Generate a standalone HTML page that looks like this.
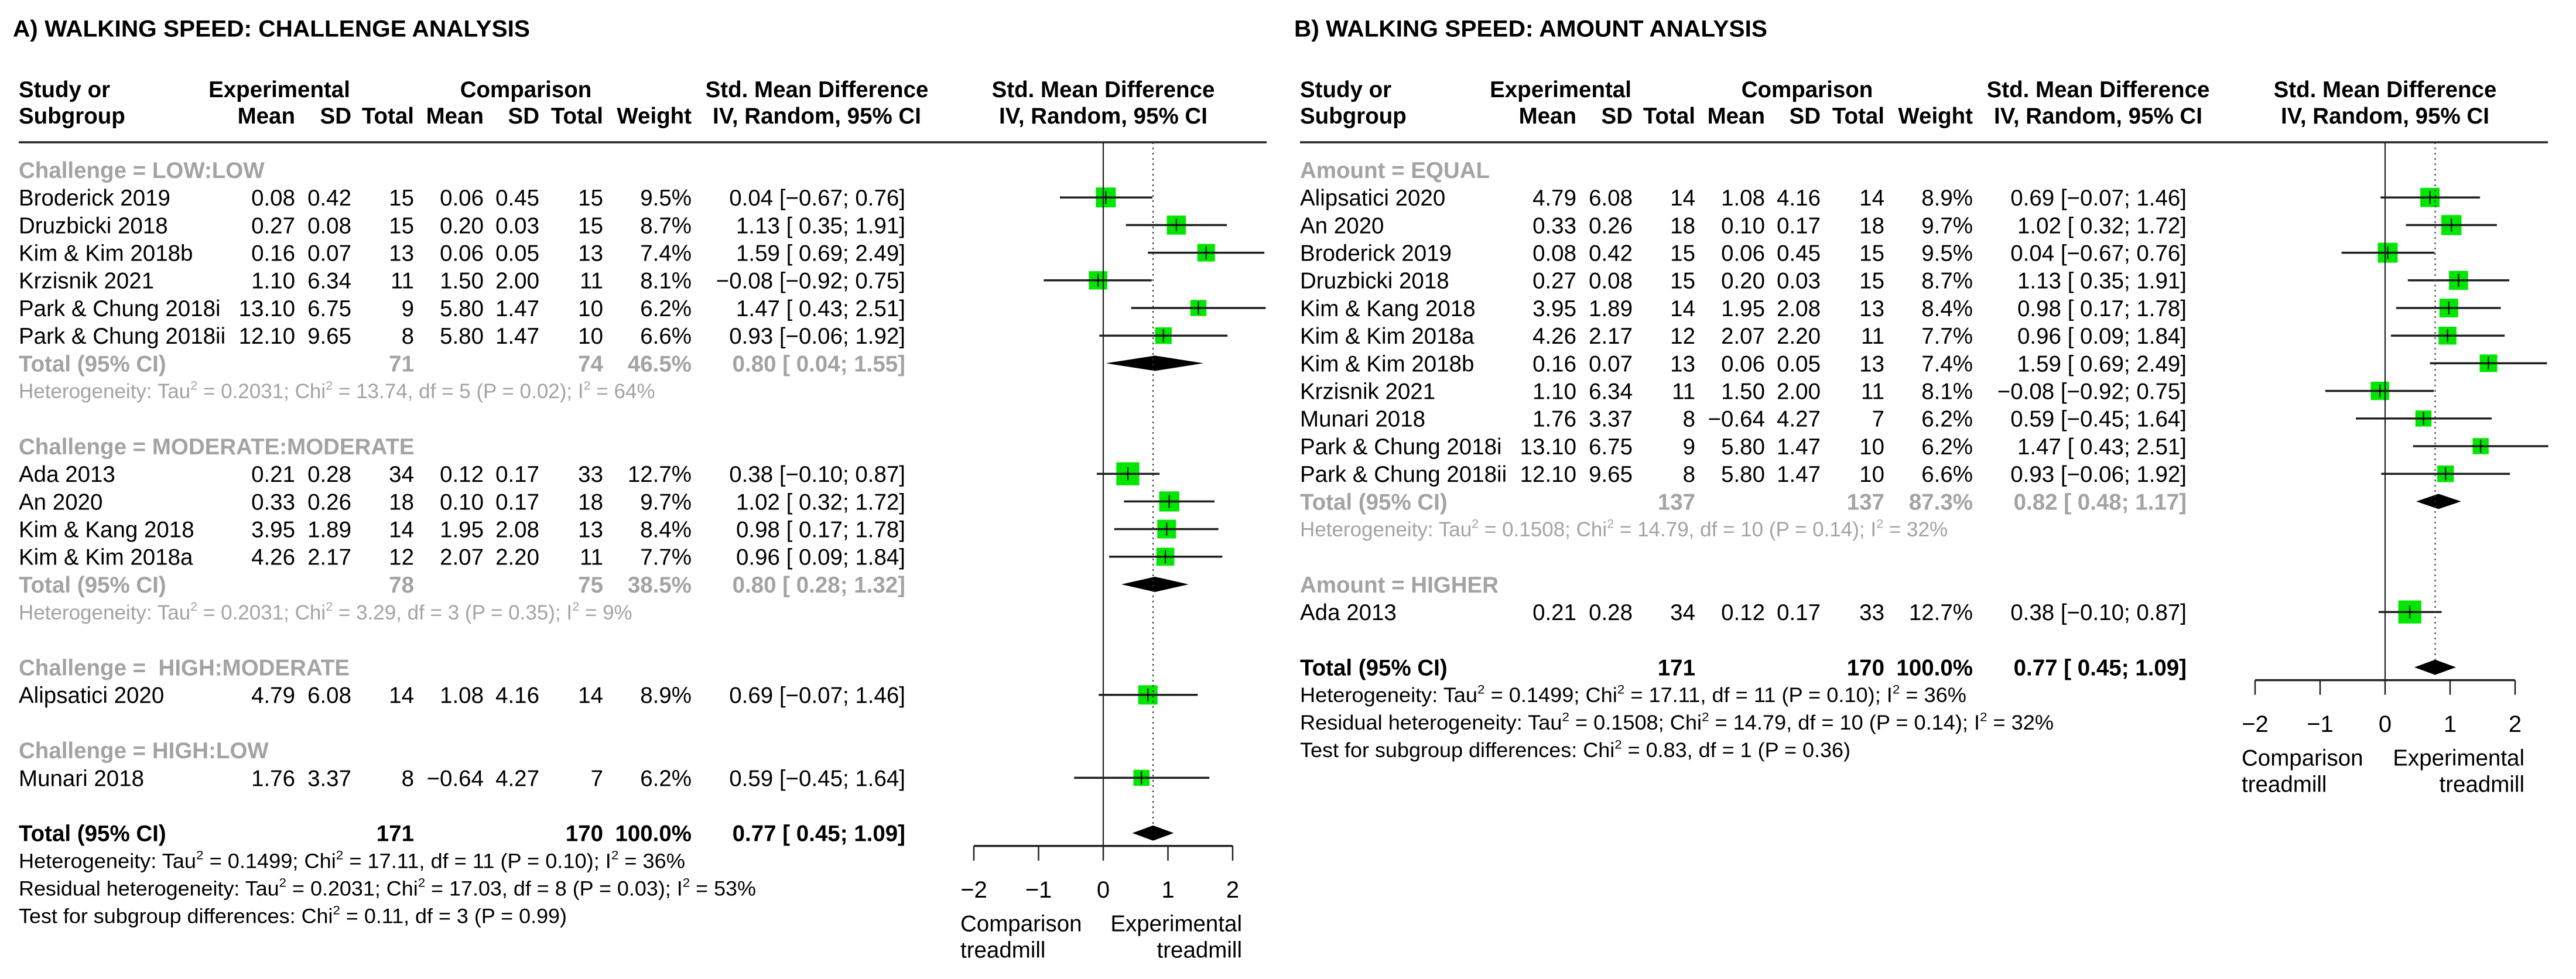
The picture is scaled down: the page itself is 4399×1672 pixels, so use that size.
<!DOCTYPE html>
<html><head><meta charset="utf-8"><title>Walking speed forest plots</title>
<style>
html,body{margin:0;padding:0;background:#fff;}
svg{display:block;}
text{font-family:"Liberation Sans",Arial,sans-serif;white-space:pre;}
</style></head>
<body>
<svg id="chart" xmlns="http://www.w3.org/2000/svg" width="4399" height="1672" viewBox="0 0 4399 1672">
<rect x="0" y="0" width="4399" height="1672" fill="#fff"/>
</svg>
<script>
// ---------- Panel A data (Challenge analysis) ----------
const aNames = ["Broderick 2019","Druzbicki 2018","Kim & Kim 2018b","Krzisnik 2021","Park & Chung 2018i","Park & Chung 2018ii","Ada 2013","An 2020","Kim & Kang 2018","Kim & Kim 2018a","Alipsatici 2020","Munari 2018"];
const aGroupOf = [0,0,0,0,0,0,1,1,1,1,2,3];
const aExpMean = [0.08,0.27,0.16,1.10,13.10,12.10,0.21,0.33,3.95,4.26,4.79,1.76];
const aExpSD = [0.42,0.08,0.07,6.34,6.75,9.65,0.28,0.26,1.89,2.17,6.08,3.37];
const aExpN = [15,15,13,11,9,8,34,18,14,12,14,8];
const aCmpMean = [0.06,0.20,0.06,1.50,5.80,5.80,0.12,0.10,1.95,2.07,1.08,-0.64];
const aCmpSD = [0.45,0.03,0.05,2.00,1.47,1.47,0.17,0.17,2.08,2.20,4.16,4.27];
const aCmpN = [15,15,13,11,10,10,33,18,13,11,14,7];
const aWeight = [9.5,8.7,7.4,8.1,6.2,6.6,12.7,9.7,8.4,7.7,8.9,6.2];
const aSMD = [0.04,1.13,1.59,-0.08,1.47,0.93,0.38,1.02,0.98,0.96,0.69,0.59];
const aLow = [-0.67,0.35,0.69,-0.92,0.43,-0.06,-0.10,0.32,0.17,0.09,-0.07,-0.45];
const aHigh = [0.76,1.91,2.49,0.75,2.51,1.92,0.87,1.72,1.78,1.84,1.46,1.64];
const aGroups = ["Challenge = LOW:LOW","Challenge = MODERATE:MODERATE","Challenge =  HIGH:MODERATE","Challenge = HIGH:LOW"];
const aGrpSMD = [0.80,0.80,null,null];
const aGrpLow = [0.04,0.28,null,null];
const aGrpHigh = [1.55,1.32,null,null];
const aGrpW = [46.5,38.5,null,null];
const aGrpNe = [71,78,null,null];
const aGrpNc = [74,75,null,null];
const aGrpHet = ["Heterogeneity: Tau^2 = 0.2031; Chi^2 = 13.74, df = 5 (P = 0.02); I^2 = 64%","Heterogeneity: Tau^2 = 0.2031; Chi^2 = 3.29, df = 3 (P = 0.35); I^2 = 9%",null,null];
const aTotal = [0.77,0.45,1.09];
const aTotalN = [171,170];
const aFooter = ["Heterogeneity: Tau^2 = 0.1499; Chi^2 = 17.11, df = 11 (P = 0.10); I^2 = 36%","Residual heterogeneity: Tau^2 = 0.2031; Chi^2 = 17.03, df = 8 (P = 0.03); I^2 = 53%","Test for subgroup differences: Chi^2 = 0.11, df = 3 (P = 0.99)"];

// ---------- Panel B data (Amount analysis) ----------
const bNames = ["Alipsatici 2020","An 2020","Broderick 2019","Druzbicki 2018","Kim & Kang 2018","Kim & Kim 2018a","Kim & Kim 2018b","Krzisnik 2021","Munari 2018","Park & Chung 2018i","Park & Chung 2018ii","Ada 2013"];
const bGroupOf = [0,0,0,0,0,0,0,0,0,0,0,1];
const bExpMean = [4.79,0.33,0.08,0.27,3.95,4.26,0.16,1.10,1.76,13.10,12.10,0.21];
const bExpSD = [6.08,0.26,0.42,0.08,1.89,2.17,0.07,6.34,3.37,6.75,9.65,0.28];
const bExpN = [14,18,15,15,14,12,13,11,8,9,8,34];
const bCmpMean = [1.08,0.10,0.06,0.20,1.95,2.07,0.06,1.50,-0.64,5.80,5.80,0.12];
const bCmpSD = [4.16,0.17,0.45,0.03,2.08,2.20,0.05,2.00,4.27,1.47,1.47,0.17];
const bCmpN = [14,18,15,15,13,11,13,11,7,10,10,33];
const bWeight = [8.9,9.7,9.5,8.7,8.4,7.7,7.4,8.1,6.2,6.2,6.6,12.7];
const bSMD = [0.69,1.02,0.04,1.13,0.98,0.96,1.59,-0.08,0.59,1.47,0.93,0.38];
const bLow = [-0.07,0.32,-0.67,0.35,0.17,0.09,0.69,-0.92,-0.45,0.43,-0.06,-0.10];
const bHigh = [1.46,1.72,0.76,1.91,1.78,1.84,2.49,0.75,1.64,2.51,1.92,0.87];
const bGroups = ["Amount = EQUAL","Amount = HIGHER"];
const bGrpSMD = [0.82,null];
const bGrpLow = [0.48,null];
const bGrpHigh = [1.17,null];
const bGrpW = [87.3,null];
const bGrpNe = [137,null];
const bGrpNc = [137,null];
const bGrpHet = ["Heterogeneity: Tau^2 = 0.1508; Chi^2 = 14.79, df = 10 (P = 0.14); I^2 = 32%",null];
const bTotal = [0.77,0.45,1.09];
const bTotalN = [171,170];
const bFooter = ["Heterogeneity: Tau^2 = 0.1499; Chi^2 = 17.11, df = 11 (P = 0.10); I^2 = 36%","Residual heterogeneity: Tau^2 = 0.1508; Chi^2 = 14.79, df = 10 (P = 0.14); I^2 = 32%","Test for subgroup differences: Chi^2 = 0.83, df = 1 (P = 0.36)"];

const ticks = [-2,-1,0,1,2];
const tickLabels = ["\u22122","\u22121","0","1","2"];

const NS = "http://www.w3.org/2000/svg";
const svg = document.getElementById("chart");
const GRAY = "#a3a3a3";

function mk(tag, attrs, parent) {
  const el = document.createElementNS(NS, tag);
  for (const k in attrs) el.setAttribute(k, attrs[k]);
  (parent || svg).appendChild(el);
  return el;
}
function txt(x, yc, s, o, parent) {
  o = o || {};
  const size = o.size || 38.5;
  const el = mk("text", {x: x, y: yc + size * 0.36, "font-size": size, fill: o.fill || "#000",
    "font-weight": o.bold ? "bold" : "normal", "text-anchor": o.anchor || "start"}, parent);
  const parts = s.split("^2");
  parts.forEach((p, i) => {
    if (i > 0) {
      const sup = document.createElementNS(NS, "tspan");
      sup.setAttribute("font-size", size * 0.62);
      sup.setAttribute("dy", -size * 0.42);
      sup.textContent = "2";
      el.appendChild(sup);
    }
    const t = document.createElementNS(NS, "tspan");
    if (i > 0) t.setAttribute("dy", size * 0.42);
    t.textContent = p;
    el.appendChild(t);
  });
  if (o.len) { el.setAttribute("textLength", o.len); el.setAttribute("lengthAdjust", "spacingAndGlyphs"); }
  return el;
}
function f2(v) { return (v < 0 ? "\u2212" : "") + Math.abs(v).toFixed(2); }
function ciStr(m, lo, hi) {
  const l = lo < 0 ? "\u2212" + Math.abs(lo).toFixed(2) : " " + lo.toFixed(2);
  return f2(m) + " [" + l + "; " + hi.toFixed(2) + "]";
}

function drawPanel(P) {
  const dx = P.dx;
  const g = mk("g", {});
  
  
  const zero = 1884 + dx + P.zfix, unit = P.unit;
  const xs = v => zero + v * unit;
  const rowY = i => 290 + 47.2 * i;
  const col = {name: 32 + dx, em: 504 + dx, esd: 600 + dx, en: 707 + dx, cm: 826 + dx, csd: 921 + dx, cn: 1030 + dx, w: 1181 + dx, ci: 1546 + dx};

  let t = txt(22 + dx, 48, P.title, {bold: true, size: 40, len: P.titleLen}, g);
  
  

  // headers
  const H = [
    [col.name, 152, "Study or", "start"], [col.name, 197, "Subgroup", "start"],
    [477 + dx, 152, "Experimental", "middle"], [898 + dx, 152, "Comparison", "middle"],
    [col.em, 197, "Mean", "end"], [col.esd, 197, "SD", "end"], [col.en, 197, "Total", "end"],
    [col.cm, 197, "Mean", "end"], [col.csd, 197, "SD", "end"], [col.cn, 197, "Total", "end"],
    [col.w, 197, "Weight", "end"],
    [1395 + dx, 152, "Std. Mean Difference", "middle"], [1395 + dx, 197, "IV, Random, 95% CI", "middle"],
    [zero, 152, "Std. Mean Difference", "middle"], [zero, 197, "IV, Random, 95% CI", "middle"]
  ];
  H.forEach(h => {
    const el = txt(h[0], h[1], h[2], {bold: true, anchor: h[3]}, g);
    
    
  });
  const rule = mk("line", {x1: 32 + dx, x2: 2163 + dx, y1: 243, y2: 243, stroke: "#222", "stroke-width": 3.5}, g);
  
  

  // rows
  let r = 0;
  const marks = mk("g", {}, g);
  
  
  P.groups.forEach((gname, gi) => {
    const gl = txt(col.name, rowY(r), gname, {bold: true, fill: GRAY}, g);
    
    
    r++;
    P.names.forEach((nm, i) => {
      if (P.groupOf[i] !== gi) return;
      const y = rowY(r);
      const cells = [[col.name, nm, "start"], [col.em, f2(P.em[i]), "end"], [col.esd, f2(P.esd[i]), "end"],
        [col.en, String(P.en[i]), "end"], [col.cm, f2(P.cm[i]), "end"], [col.csd, f2(P.csd[i]), "end"],
        [col.cn, String(P.cn[i]), "end"], [col.w, P.w[i].toFixed(1) + "%", "end"],
        [col.ci, ciStr(P.smd[i], P.lo[i], P.hi[i]), "end"]];
      cells.forEach(c => {
        const el = txt(c[0], y, c[1], {anchor: c[2]}, g);
        
        
      });
      const side = 11.03 * Math.sqrt(P.w[i]);
      const sq = mk("rect", {x: xs(P.smd[i]) - side / 2, y: y - side / 2, width: side, height: side, fill: "#00e600"}, marks);
      
      
      const ci = mk("line", {x1: xs(P.lo[i]), x2: xs(P.hi[i]), y1: y, y2: y, stroke: "#1e1e1e", "stroke-width": 3.5}, marks);
      
      
      const tk = mk("line", {x1: xs(P.smd[i]), x2: xs(P.smd[i]), y1: y - 11, y2: y + 11, stroke: "#000", "stroke-width": 2}, marks);
      
      
      r++;
    });
    if (P.gSMD[gi] !== null) {
      const y = rowY(r);
      const cells = [[col.name, "Total (95% CI)"], [col.en, String(P.gNe[gi])], [col.cn, String(P.gNc[gi])],
        [col.w, P.gW[gi].toFixed(1) + "%"], [col.ci, ciStr(P.gSMD[gi], P.gLo[gi], P.gHi[gi])]];
      cells.forEach((c, k) => {
        const el = txt(c[0], y, c[1], {bold: true, fill: GRAY, anchor: k === 0 ? "start" : "end"}, g);
        
        
      });
      const d = mk("polygon", {points: [xs(P.gLo[gi]) + "," + y, xs(P.gSMD[gi]) + "," + (y - 13), xs(P.gHi[gi]) + "," + y, xs(P.gSMD[gi]) + "," + (y + 13)].join(" "), fill: "#000"}, marks);
      
      
      r++;
      const het = txt(col.name, rowY(r), P.gHet[gi], {fill: GRAY, size: 35}, g);
      
      
      r++;
    }
    r++;
  });
  // overall
  const ty = rowY(r);
  const tc = [[col.name, "Total (95% CI)"], [col.en, String(P.totalN[0])], [col.cn, String(P.totalN[1])],
    [col.w, "100.0%"], [col.ci, ciStr(P.total[0], P.total[1], P.total[2])]];
  tc.forEach((c, k) => {
    const el = txt(c[0], ty, c[1], {bold: true, anchor: k === 0 ? "start" : "end"}, g);
    
    
  });
  const od = mk("polygon", {points: [xs(P.total[1]) + "," + ty, xs(P.total[0]) + "," + (ty - 13), xs(P.total[2]) + "," + ty, xs(P.total[0]) + "," + (ty + 13)].join(" "), fill: "#000"}, marks);
  
  
  P.footer.forEach((s, k) => {
    const el = txt(col.name, ty + 47 * (k + 1), s, {size: 35, len: P.footLen[k]}, g);
    
    
  });

  // axis
  const ay = ty + 22;
  const zl = mk("line", {x1: zero, x2: zero, y1: 243, y2: ay, stroke: "#222", "stroke-width": 2.2}, g);
  
  
  const dl = mk("line", {x1: xs(P.total[0]), x2: xs(P.total[0]), y1: 243, y2: ty - 13, stroke: "#333", "stroke-width": 2, "stroke-dasharray": "3 6"}, g);
  
  
  const ax = mk("line", {x1: xs(ticks[0]), x2: xs(ticks[ticks.length - 1]), y1: ay, y2: ay, stroke: "#222", "stroke-width": 3.5}, g);
  
  
  ticks.forEach((v, k) => {
    const tl = mk("line", {x1: xs(v), x2: xs(v), y1: ay, y2: ay + 25, stroke: "#222", "stroke-width": 2.5}, g);
    
    
    const lb = txt(xs(v), ay + 74, tickLabels[k], {size: 40, anchor: "middle"}, g);
    
    
  });
  const l1 = txt(xs(-2) - 23, ay + 132, "Comparison", {}, g);
  
  
  const l2 = txt(xs(-2) - 23, ay + 177, "treadmill", {}, g);
  
  
  const l3 = txt(xs(2) + 16, ay + 132, "Experimental", {anchor: "end"}, g);
  
  
  const l4 = txt(xs(2) + 16, ay + 177, "treadmill", {anchor: "end"}, g);
  
  
}

drawPanel({key: "challenge", dx: 0, zfix: 0, unit: 110.5, title: "A) WALKING SPEED: CHALLENGE ANALYSIS", titleLen: 883,
  names: aNames, groupOf: aGroupOf, em: aExpMean, esd: aExpSD, en: aExpN, cm: aCmpMean, csd: aCmpSD, cn: aCmpN,
  w: aWeight, smd: aSMD, lo: aLow, hi: aHigh, groups: aGroups, gSMD: aGrpSMD, gLo: aGrpLow, gHi: aGrpHigh,
  gW: aGrpW, gNe: aGrpNe, gNc: aGrpNc, gHet: aGrpHet, total: aTotal, totalN: aTotalN, footer: aFooter,
  footLen: [1138, 1259, 936]});
drawPanel({key: "amount", dx: 2188, zfix: 1, unit: 111, title: "B) WALKING SPEED: AMOUNT ANALYSIS", titleLen: 808,
  names: bNames, groupOf: bGroupOf, em: bExpMean, esd: bExpSD, en: bExpN, cm: bCmpMean, csd: bCmpSD, cn: bCmpN,
  w: bWeight, smd: bSMD, lo: bLow, hi: bHigh, groups: bGroups, gSMD: bGrpSMD, gLo: bGrpLow, gHi: bGrpHigh,
  gW: bGrpW, gNe: bGrpNe, gNc: bGrpNc, gHet: bGrpHet, total: bTotal, totalN: bTotalN, footer: bFooter,
  footLen: [1138, 1287, 940]});
</script>
</body></html>
